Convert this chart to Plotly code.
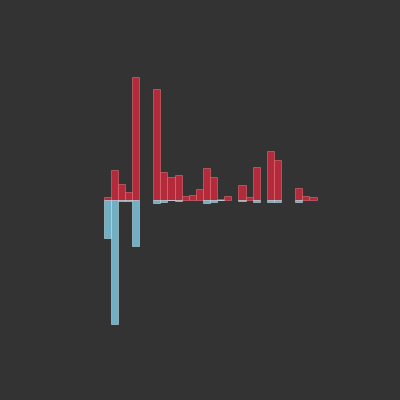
import plotly.graph_objects as go

categories = list(range(30))
positive = [3, 30, 16, 8, 122.7, None, None, 110.7, 27.3, 22.3, 25, 3.3, 4.3, 11, 32, 22.3,
            0.6, 3.3, None, 15, 2.7, 32.3, None, 48.3, 40, None, None, 11.3, 3.3, 2.3]
negative = [-38.3, -124, -1, -1, -46, None, None, -3, -2, -0.6, -1.5, None, None, None, -3, -2.5,
            -0.6, None, None, -1.5, None, -2, None, -2.5, -2.5, None, None, -2.5, None, None]

fig = go.Figure()
fig.add_trace(go.Bar(x=categories, y=positive, width=1,
                     marker=dict(color="rgba(200,42,60,0.86)",
                                 line=dict(color="rgba(240,120,130,0.5)", width=1))))
fig.add_trace(go.Bar(x=categories, y=negative, width=1,
                     marker=dict(color="rgba(120,190,212,0.9)",
                                 line=dict(color="rgba(200,235,245,0.5)", width=1))))

px_per_unit = 7.1
xmin = -0.5 - 104.5 / px_per_unit
xmax = xmin + 400 / px_per_unit

fig.update_layout(
    width=400, height=400,
    margin=dict(l=0, r=0, t=0, b=0),
    paper_bgcolor="#333333", plot_bgcolor="#333333",
    barmode="overlay", bargap=0, showlegend=False,
    xaxis=dict(range=[xmin, xmax], visible=False, showgrid=False, zeroline=False),
    yaxis=dict(range=[-199.5, 200.5], visible=False, showgrid=False, zeroline=False),
)
fig.write_html("out.html")
